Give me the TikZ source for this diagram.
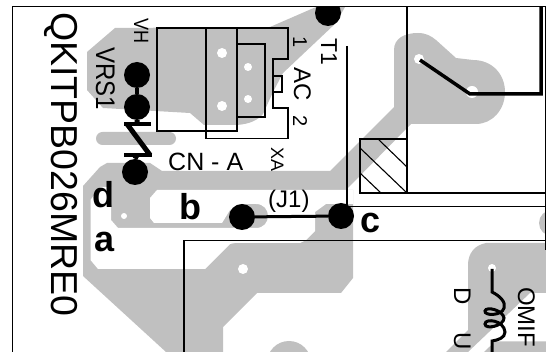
\documentclass[tikz,border=0pt]{standalone}
\usepackage{fontspec}
\setmainfont{Liberation Sans}
\definecolor{cu}{HTML}{C0C0C0}
\tikzset{
  copper/.style={fill=cu,draw=none},
  gap/.style={fill=white,draw=none},
  outl/.style={draw=black,line width=1.1pt},
  fine/.style={draw=black,line width=1.2pt},
  trace/.style={draw=black,line width=3.5pt,line join=miter},
  padblack/.style={circle,fill=black,draw=none,inner sep=0pt,minimum size=26pt},
  lbl/.style={inner sep=0pt,anchor=base west},
  vlbl/.style={inner sep=0pt,anchor=base west,rotate=-90},
}
\newcommand{\fz}[1]{\fontsize{#1}{#1}\selectfont}
\newcommand{\tallx}[2]{\scalebox{1}[#1]{#2}}
\begin{document}
\begin{tikzpicture}[x=1pt,y=-1pt]
\useasboundingbox (0,0) rectangle (546,352);
\begin{scope}
\clip (12,7) rectangle (546,352);
% copper
\fill[copper] (115,28) -- (87,52) -- (87,90) -- (103,108) -- (190,113) -- (204,125) -- (237,125)
  .. controls (250,124) and (258,120) .. (263,114) -- (273,92) -- (283,73) -- (336,23) -- (345,7) -- (316,7) -- (270,27) -- cycle;
\fill[copper,rounded corners=6.5pt] (96,132) rectangle (176,145);
\fill[copper] (83,186) -- (100,167) -- (107,163) -- (150,163) -- (162,171) -- (330,171) -- (394,107) -- (394,50)
  .. controls (394,38) and (405,33) .. (418,33) .. controls (426,33) and (431,36) .. (436,40)
  -- (456,58) -- (473,60) .. controls (492,60) and (505,74) .. (505,92) .. controls (505,110) and (492,124) .. (476,124)
  -- (411,124) -- (347,189) -- (347,190) -- (353,190) -- (353,278) -- (341,293) -- (257,293) -- (223,327) -- (223,352)
  -- (166,352) -- (83,276) -- cycle;
\fill[gap] (100,187) -- (90.5,200) -- (90.5,260) -- (98,269) -- (205,269) -- (230,244) -- (235,243) -- (300,243) -- (306,240)
  -- (315,231) -- (315,212) -- (326,204) -- (353,204) -- (353,190) -- (157,190) -- (150,198) -- (150,218) -- (154,223)
  -- (222,223) -- (230,210) -- (240,204) -- (256,204) .. controls (272,204) and (272,228) .. (256,228)
  -- (118,228) -- (111,220) -- (111,187) -- cycle;
\fill[copper] (546,243) -- (486,243) .. controls (475,245) and (468,253) .. (468,265) -- (468,330) -- (446,352) -- (468,352)
  -- (530,293) -- (546,293) -- cycle;
\fill[copper] (484,352) -- (495,341.5) -- (546,341.5) -- (546,352) -- cycle;
\fill[copper] (552,223) circle[radius=13];
\fill[copper] (289,363) circle[radius=22];
% drill holes
\fill[white] (222,53) circle[radius=5] (222,106) circle[radius=5] (248,67) circle[radius=4] (248,99) circle[radius=4]
  (419,59) circle[radius=5] (472,92) circle[radius=6] (124,216) circle[radius=3] (243,269) circle[radius=5] (492,268) circle[radius=4];
\node[padblack] (t1) at (328,13) {};
\end{scope}
% frame
\draw[fine] (12.5,352) -- (12.5,6.5) -- (545.5,6.5) -- (545.5,250);
% connector outline
\draw[outl] (157,28) rectangle (237,131);
\draw[outl] (206,28) -- (288,28) -- (288,59) -- (273,59) -- (273,108) -- (288,108) -- (288,138.5) -- (206,138.5) -- cycle;
\draw[outl] (237,44) -- (265,44) -- (265,117) -- (237,117);
\draw[outl] (273,76) -- (282,76) -- (282,92) -- (273,92);
% layout lines
\draw[outl] (347,46) -- (347,206.5) -- (546,206.5);
\draw[outl] (407,7) -- (407,193);
\draw[outl] (360,139) rectangle (407,193);
\draw[outl] (407,193) -- (546,193);
\draw[outl] (378,139) -- (407,167) (360,148) -- (407,193) (360,173) -- (381,193);
\draw[outl] (184,352) -- (184,240.5) -- (546,240.5);
% VRS1
\node[padblack] (va) at (137,75) {};
\node[padblack] (vb) at (137,107) {};
\node[padblack] (vc) at (135,172) {};
\draw[line width=4.5pt] (va) -- (vb);
\draw[line width=4pt] (124,124) -- (151,124) (124,155) -- (152,155);
\draw[line width=5pt,line join=miter] (vb.south) -- (137,124) (127,124) -- (150,155) (137,155) -- (vc.north);
% J1
\node[padblack] (ja) at (242,217) {};
\node[padblack] (jc) at (341,216) {};
\draw[line width=3pt] (ja) -- (jc);
% upper right trace
\coordinate (ra) at (420,60);
\coordinate (rb) at (470,94);
\coordinate (rc) at (541,94);
\coordinate (rd) at (541,7);
\draw[trace] (ra) -- (rb) -- (rc) -- (rd);
% inductor
\coordinate (la) at (492,269);
\coordinate (lb) at (492,352);
\draw[line width=3pt] (la) -- (492,292) .. controls (500,296) and (506,302) .. (504,308)
  .. controls (502,316) and (484,316) .. (485,311) .. controls (486,306) and (503,310) .. (504,318)
  .. controls (504,326) and (485,330) .. (485,324) .. controls (485,318) and (504,320) .. (505,332)
  .. controls (505,338) and (498,340) .. (492,341) -- (lb);
% labels
\node[vlbl] (tq) at (51,12) {\fz{37.5}QKITPB026MRE0};
\node[vlbl] (tvrs) at (96,47) {\fz{24}\tallx{1.12}{VRS1}};
\node[vlbl] (tvh) at (134,18) {\fz{18}\tallx{1.15}{VH}};
\node[vlbl] (t1l) at (293,36) {\fz{20}1};
\node[vlbl] (t2l) at (293,115) {\fz{20}2};
\node[vlbl] (tac) at (294,67) {\fz{24}AC};
\node[vlbl] (ttl) at (321,38) {\fz{23}T1};
\node[vlbl] (txa) at (271,147) {\fz{18}XA};
\node[lbl] (tcn) at (168,171) {\fz{25}CN - A};
\node[lbl] (tj) at (268,208) {\fz{24}(J1)};
\node[vlbl] (td) at (454,287) {\fz{24}D};
\node[vlbl] (tu) at (454,332) {\fz{24}U};
\node[vlbl] (tomif) at (518,287) {\fz{24}OMIF};
\node[lbl] (ld) at (92,208) {\fz{36}\bfseries d};
\node[lbl] (la2) at (94,252) {\fz{36}\bfseries a};
\node[lbl] (lb2) at (179,220) {\fz{36}\bfseries b};
\node[lbl] (lc) at (360,233) {\fz{36}\bfseries c};
\end{tikzpicture}
\end{document}
